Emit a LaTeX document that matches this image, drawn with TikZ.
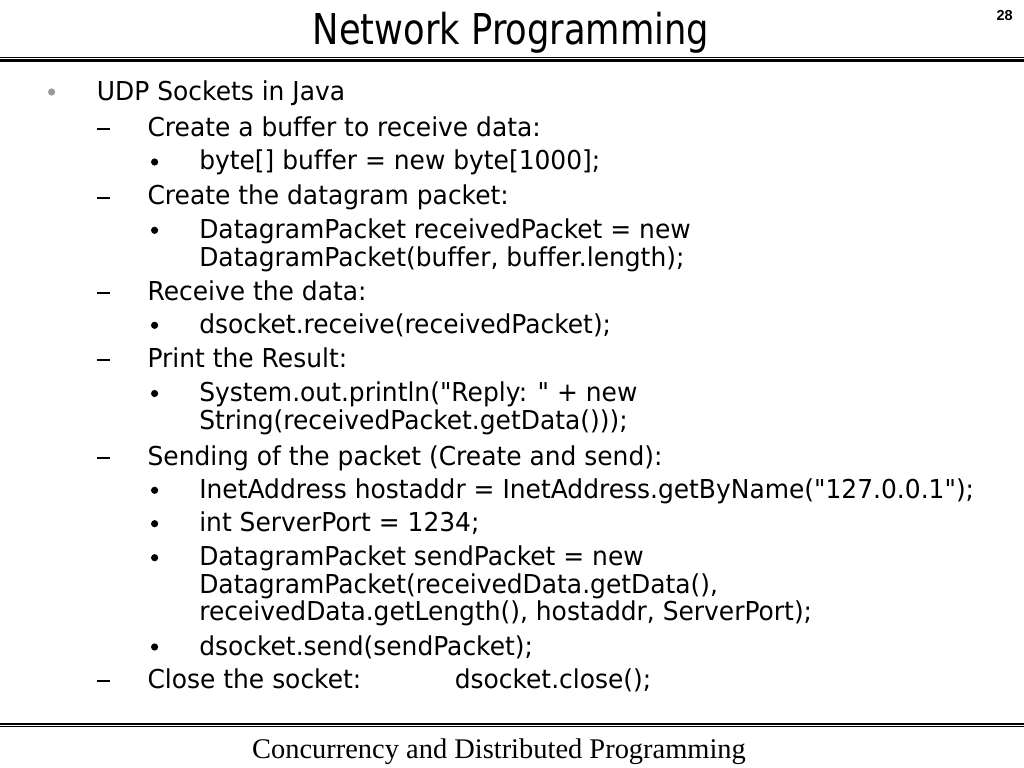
\documentclass[tikz,border=0pt]{standalone}
\usepackage{fontspec}
\setmainfont{DejaVu Sans}
\newfontfamily\bodyf[FakeStretch=0.958,Ligatures=NoCommon]{DejaVu Sans}
\newfontfamily\titlef[FakeStretch=0.83,Ligatures=NoCommon]{DejaVu Sans}
\newfontfamily\footf{Liberation Serif}
\newfontfamily\numf{Liberation Sans}
\begin{document}
\begin{tikzpicture}[x=0.703125pt,y=-0.703125pt,
  body/.style={anchor=base west,inner sep=0pt,font=\bodyf\fontsize{18.3}{22}\selectfont},
  titlestyle/.style={anchor=base,inner sep=0pt,font=\titlef\fontsize{29.9}{34}\selectfont},
  footstyle/.style={anchor=base,inner sep=0pt,font=\footf\fontsize{20}{24}\selectfont},
  numstyle/.style={anchor=base east,inner sep=0pt,font=\numf\bfseries\fontsize{10.2}{12}\selectfont},
  dotone/.style={fill=black!40},
  dotthree/.style={fill=black},
  dashmark/.style={line width=1.406pt}]
\useasboundingbox (0,0) rectangle (1024,768);
\fill[white] (0,0) rectangle (1024,768);
% title and page number
\node[titlestyle] (title) at (511,44.3) {Network Programming};
\node[numstyle] (pnum) at (1013,21) {28};
% rules
\draw[line width=0.7pt] (0,57.6) -- (1024,57.6);
\draw[line width=1.5pt] (0,60.5) -- (1024,60.5);
\draw[line width=1.6pt] (0,724) -- (1024,724);
\draw[line width=0.7pt] (0,726.8) -- (1024,726.8);
% footer
\node[footstyle] (foot) at (499,758) {Concurrency and Distributed Programming};
% level 1
\fill[dotone] (51.6,92) circle (3.6);
\node[body] (l1) at (96.7,100.7) {UDP Sockets in Java};
% level 2 dashes
\foreach \b in {129,198,293,360,458,681}
  \draw[dashmark] (97,\b) -- (110,\b);
% level 3 bullets
\foreach \b in {170,238.3,333.3,401.5,498.3,531.7,565.7,655}
  \fill[dotthree] (154.6,\b-8) circle (3.6);
\node[body] (a2) at (147.3,136.7) {Create a buffer to receive data:};
\node[body] (a3) at (199,170) {byte[] buffer = new byte[1000];};
\node[body] (b2) at (147.3,205) {Create the datagram packet:};
\node[body] (b3) at (199,238.3) {DatagramPacket receivedPacket = new};
\node[body] (b3b) at (199,266.7) {DatagramPacket(buffer, buffer.length);};
\node[body] (c2) at (147.3,300.7) {Receive the data:};
\node[body] (c3) at (199,333.3) {dsocket.receive(receivedPacket);};
\node[body] (d2) at (147.3,367.7) {Print the Result:};
\node[body] (d3) at (199,401.5) {System.out.println("Reply: " + new};
\node[body] (d3b) at (199,429.5) {String(receivedPacket.getData()));};
\node[body] (e2) at (147.3,465) {Sending of the packet (Create and send):};
\node[body] (e3) at (199,498.3) {InetAddress hostaddr = InetAddress.getByName("127.0.0.1");};
\node[body] (f3) at (199,531.7) {int ServerPort = 1234;};
\node[body] (g3) at (199,565.7) {DatagramPacket sendPacket = new};
\node[body] (g3b) at (199,593.3) {DatagramPacket(receivedData.getData(),};
\node[body] (g3c) at (199,620.7) {receivedData.getLength(), hostaddr, ServerPort);};
\node[body] (h3) at (199,655) {dsocket.send(sendPacket);};
\node[body] (i2) at (147.3,688.3) {Close the socket:};
\node[body] (i2b) at (454.5,688.3) {dsocket.close();};
\end{tikzpicture}
\end{document}
